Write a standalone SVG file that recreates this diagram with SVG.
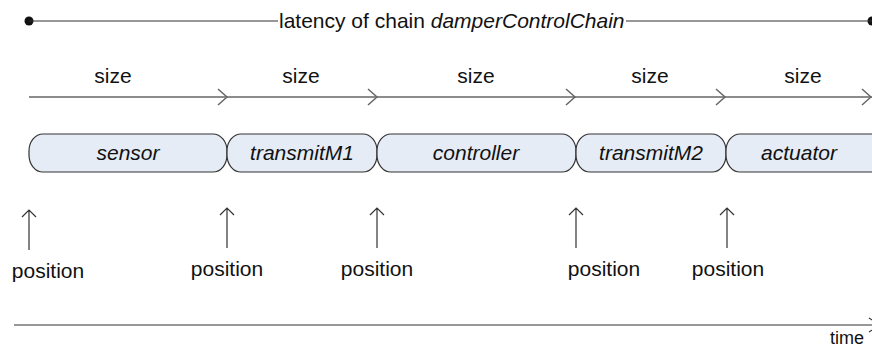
<svg xmlns="http://www.w3.org/2000/svg" width="872" height="348" viewBox="0 0 872 348">
<defs>
<style>
text{font-family:"Liberation Sans",Arial,sans-serif;font-size:21px;fill:#111}
.it{font-style:italic}
.node rect{fill:#E6ECF6;stroke:#333;stroke-width:1.2}
.ln{stroke:#333;stroke-width:1.2;fill:none}
.sz{stroke:#666;stroke-width:1.5;fill:none}
</style>
</defs>
<rect width="872" height="348" fill="#fff"/>
<g id="latency">
<circle cx="29" cy="21" r="4.5" fill="#111"/>
<circle cx="872" cy="21" r="4.5" fill="#111"/>
<line class="ln" x1="29" y1="21" x2="278" y2="21"/>
<line class="ln" x1="626" y1="21" x2="872" y2="21"/>
<text x="279" y="28">latency of chain <tspan class="it">damperControlChain</tspan></text>
</g>
<g id="connectors">
<line class="sz" x1="29" y1="97" x2="872" y2="97"/>
<path class="sz" d="M218,89 L227,97 L218,105 M368,89 L377,97 L368,105 M566,89 L575,97 L566,105 M716,89 L725,97 L716,105 M862,89 L871,97 L862,105"/>
<path class="ln" d="M29,250 V210 M22,217 L29,210 L36,217"/>
<path class="ln" d="M227,248 V208 M220,215 L227,208 L234,215"/>
<path class="ln" d="M377,248 V208 M370,215 L377,208 L384,215"/>
<path class="ln" d="M576,248 V208 M569,215 L576,208 L583,215"/>
<path class="ln" d="M727,248 V208 M720,215 L727,208 L734,215"/>
<line class="ln" x1="14" y1="325" x2="872" y2="325" stroke-width="1.5"/>
<path class="ln" d="M869,318 L880,325 L869,332"/>
</g>
<g id="sizes" text-anchor="middle">
<text x="113" y="83">size</text>
<text x="301" y="83">size</text>
<text x="476" y="83">size</text>
<text x="650" y="83">size</text>
<text x="803" y="83">size</text>
</g>
<g id="sensor" class="node"><rect x="29" y="134" width="198" height="38" rx="14" ry="17"/><text class="it" x="128" y="160" text-anchor="middle">sensor</text></g>
<g id="transmitM1" class="node"><rect x="227" y="134" width="150" height="38" rx="14" ry="17"/><text class="it" x="302" y="160" text-anchor="middle">transmitM1</text></g>
<g id="controller" class="node"><rect x="377" y="134" width="199" height="38" rx="14" ry="17"/><text class="it" x="476" y="160" text-anchor="middle">controller</text></g>
<g id="transmitM2" class="node"><rect x="576" y="134" width="150" height="38" rx="14" ry="17"/><text class="it" x="651" y="160" text-anchor="middle">transmitM2</text></g>
<g id="actuator" class="node"><rect x="726" y="134" width="160" height="38" rx="14" ry="17"/><text class="it" x="799" y="160" text-anchor="middle">actuator</text></g>
<g id="positions">
<text x="48" y="278" text-anchor="middle">position</text>
<text x="227" y="276" text-anchor="middle">position</text>
<text x="377" y="276" text-anchor="middle">position</text>
<text x="604" y="276" text-anchor="middle">position</text>
<text x="728" y="276" text-anchor="middle">position</text>
<text x="864" y="344" text-anchor="end" style="font-size:18px">time</text>
</g>
</svg>
